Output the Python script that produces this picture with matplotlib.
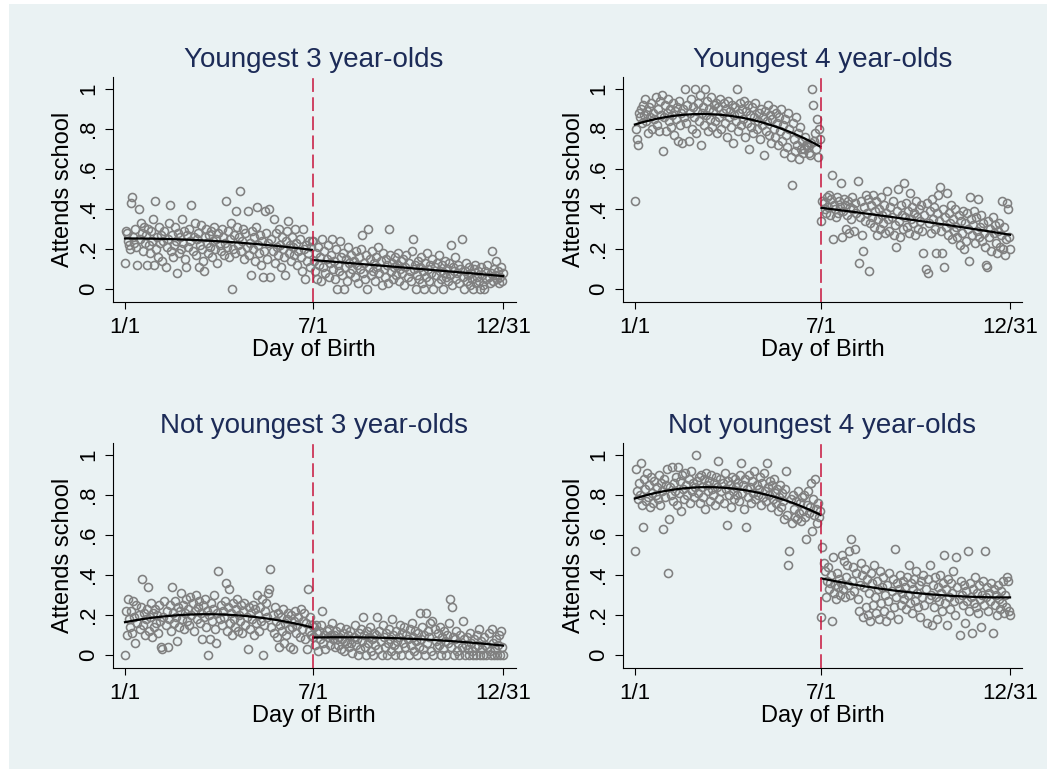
import numpy as np
import matplotlib
matplotlib.use("Agg")
import matplotlib.pyplot as plt
from matplotlib.patches import Rectangle

plt.rcParams['font.family'] = ['Liberation Sans', 'DejaVu Sans']

days = np.arange(1, 366)
cutoff = 182  # 7/1
tick_days = [1, 182, 365]
tick_names = ["1/1", "7/1", "12/31"]
y_ticks = [0, 0.2, 0.4, 0.6, 0.8, 1.0]
y_names = ["0", ".2", ".4", ".6", ".8", "1"]

titles = ["Youngest 3 year-olds", "Youngest 4 year-olds",
          "Not youngest 3 year-olds", "Not youngest 4 year-olds"]

# share attending school (percent), one value per day of birth
# days 1-181 (before 7/1) and 182-365 (from 7/1)
young3_before = [13, 29, 28, 24, 22, 20, 43, 46, 26, 23, 30, 21, 12, 40, 25, 33, 28, 19, 31, 23,
                 27, 12, 30, 22, 18, 29, 24, 35, 12, 44, 20, 26, 16, 31, 23, 27, 14, 24, 29, 11,
                 21, 25, 33, 42, 19, 27, 16, 22, 31, 24, 8, 28, 18, 26, 20, 35, 23, 29, 15, 11,
                 27, 21, 30, 24, 42, 19, 26, 33, 17, 25, 28, 11, 22, 32, 20, 14, 9, 26, 30, 23,
                 18, 27, 21, 29, 16, 24, 31, 20, 25, 13, 28, 22, 19, 30, 26, 17, 23, 44, 21, 29,
                 16, 25, 33, 0, 20, 27, 18, 39, 31, 22, 26, 49, 19, 24, 30, 15, 28, 21, 39, 17,
                 23, 7, 29, 20, 26, 14, 31, 41, 22, 18, 27, 12, 24, 6, 19, 39, 28, 15, 23, 40,
                 6, 25, 19, 35, 13, 28, 21, 17, 30, 22, 11, 26, 20, 16, 7, 24, 29, 34, 18, 22,
                 14, 26, 21, 17, 30, 23, 12, 19, 25, 16, 9, 30, 20, 5, 22, 14, 18, 24, 11, 21, 24]
young3_after = [24, 14, 9, 18, 5, 21, 12, 16, 4, 25, 11, 19, 8, 15, 22, 6, 13, 17, 25, 10,
                14, 5, 20, 0, 12, 9, 24, 16, 7, 18, 0, 11, 15, 4, 21, 13, 8, 17, 10, 14,
                6, 19, 12, 3, 16, 10, 20, 27, 8, 13, 5, 17, 0, 30, 11, 15, 7, 19, 9, 13,
                4, 16, 11, 21, 8, 14, 2, 18, 10, 6, 15, 12, 3, 30, 17, 9, 13, 5, 11, 16,
                7, 12, 18, 4, 10, 14, 8, 15, 2, 11, 17, 6, 13, 9, 4, 19, 25, 10, 12, 0,
                7, 14, 5, 11, 16, 3, 9, 0, 13, 6, 18, 10, 4, 12, 8, 15, 0, 11, 7, 13,
                3, 17, 9, 5, 12, 0, 8, 14, 6, 10, 4, 13, 7, 22, 2, 11, 9, 16, 5, 8,
                12, 3, 10, 25, 6, 0, 9, 13, 4, 7, 11, 2, 8, 5, 0, 10, 12, 3, 6, 9,
                4, 0, 11, 7, 2, 0, 9, 5, 12, 6, 3, 8, 19, 4, 10, 7, 14, 5, 9, 3,
                6, 11, 4, 8]

young4_before = [44, 80, 75, 72, 88, 86, 90, 83, 92, 87, 95, 84, 89, 78, 91, 86, 93, 80, 88, 85,
                 96, 82, 90, 79, 94, 87, 97, 69, 86, 92, 79, 88, 95, 84, 90, 81, 87, 93, 77, 89,
                 85, 91, 74, 94, 82, 88, 73, 90, 86, 100, 83, 92, 74, 88, 95, 80, 91, 86, 100, 78,
                 89, 93, 84, 97, 72, 88, 91, 82, 100, 87, 94, 79, 90, 85, 96, 81, 89, 92, 84, 93,
                 78, 91, 86, 95, 80, 88, 93, 83, 90, 76, 94, 86, 89, 81, 92, 73, 87, 91, 84, 100,
                 79, 88, 93, 82, 90, 85, 94, 76, 89, 83, 92, 70, 87, 81, 91, 78, 86, 93, 80, 84,
                 88, 75, 90, 82, 86, 67, 89, 79, 84, 92, 77, 87, 73, 85, 90, 80, 76, 88, 83, 72,
                 86, 79, 90, 74, 82, 68, 85, 77, 71, 88, 80, 66, 52, 83, 75, 69, 86, 72, 78, 65,
                 81, 70, 74, 68, 70, 76, 72, 72, 71, 68, 67, 73, 100, 92, 74, 78, 70, 85, 66, 80, 75]
young4_after = [34, 44, 43, 40, 38, 46, 41, 47, 37, 45, 57, 25, 42, 40, 36, 46, 38, 44, 41, 53,
                26, 39, 45, 42, 30, 37, 44, 28, 41, 35, 46, 40, 29, 43, 38, 54, 13, 36, 44, 27,
                19, 41, 34, 47, 38, 45, 9, 33, 42, 36, 47, 31, 39, 44, 27, 35, 40, 30, 46, 37,
                33, 42, 28, 38, 49, 35, 29, 41, 36, 44, 27, 32, 21, 39, 50, 34, 26, 42, 37, 30,
                53, 36, 43, 31, 39, 28, 48, 35, 41, 33, 38, 27, 44, 36, 30, 40, 34, 42, 29, 18,
                37, 10, 43, 8, 33, 39, 28, 45, 35, 41, 30, 18, 38, 47, 34, 51, 29, 18, 40, 11,
                36, 31, 48, 27, 38, 33, 42, 25, 35, 29, 40, 31, 26, 37, 22, 34, 28, 39, 20, 33,
                24, 38, 30, 14, 46, 35, 27, 32, 39, 23, 36, 29, 45, 26, 31, 37, 24, 33, 28, 21,
                12, 11, 34, 26, 30, 19, 36, 28, 32, 23, 18, 29, 33, 21, 27, 44, 20, 31, 17, 25,
                43, 40, 26, 20]

older3_before = [0, 22, 10, 28, 18, 14, 22, 11, 27, 19, 6, 25, 16, 20, 13, 24, 38, 15, 21, 10,
                 18, 23, 34, 12, 19, 26, 9, 21, 14, 23, 16, 20, 11, 25, 17, 4, 3, 19, 27, 15,
                 22, 4, 18, 25, 12, 34, 21, 16, 27, 19, 7, 24, 14, 22, 31, 18, 25, 13, 21, 28,
                 17, 23, 15, 29, 20, 26, 12, 22, 30, 18, 24, 27, 16, 21, 8, 25, 19, 28, 14, 22,
                 0, 20, 8, 26, 17, 23, 30, 13, 6, 21, 42, 18, 25, 15, 22, 19, 27, 36, 12, 24,
                 33, 16, 21, 10, 26, 18, 14, 23, 28, 12, 20, 17, 25, 11, 22, 26, 15, 19, 3, 24,
                 13, 21, 18, 25, 10, 23, 16, 30, 20, 12, 24, 17, 28, 0, 15, 22, 26, 19, 31, 33,
                 43, 14, 20, 11, 24, 17, 9, 21, 4, 15, 19, 12, 23, 6, 16, 10, 18, 21, 13, 4,
                 20, 14, 3, 17, 22, 11, 15, 19, 9, 23, 13, 17, 21, 8, 16, 3, 33, 12, 19, 10, 15]
older3_after = [9, 14, 5, 15, 11, 2, 12, 8, 15, 22, 6, 10, 3, 12, 9, 13, 5, 10, 16, 8,
                10, 4, 12, 8, 5, 9, 14, 3, 8, 11, 2, 7, 13, 6, 10, 4, 12, 6, 1, 9,
                15, 5, 8, 0, 11, 3, 13, 7, 19, 10, 4, 0, 12, 6, 9, 14, 2, 8, 0, 11,
                5, 10, 19, 3, 12, 7, 0, 15, 9, 4, 11, 0, 6, 13, 8, 2, 18, 10, 5, 0,
                12, 7, 3, 9, 15, 0, 11, 6, 14, 4, 10, 8, 0, 13, 5, 16, 9, 2, 12, 7,
                0, 11, 4, 21, 8, 14, 3, 10, 0, 21, 6, 12, 9, 16, 2, 17, 0, 13, 7, 4,
                11, 5, 14, 0, 9, 3, 12, 7, 0, 10, 6, 16, 28, 4, 24, 9, 0, 8, 12, 2,
                6, 0, 10, 4, 17, 8, 0, 5, 9, 3, 0, 11, 6, 2, 0, 8, 4, 0, 10, 5,
                13, 0, 7, 3, 0, 9, 5, 0, 4, 11, 2, 0, 13, 6, 0, 3, 8, 0, 5, 10,
                0, 12, 4, 0]

older4_before = [52, 93, 82, 78, 86, 80, 96, 75, 64, 88, 83, 77, 91, 79, 85, 74, 89, 81, 76, 87,
                 80, 84, 78, 90, 75, 86, 82, 63, 88, 79, 85, 93, 41, 68, 84, 80, 94, 77, 86, 82,
                 89, 75, 94, 81, 87, 72, 90, 83, 78, 91, 85, 80, 88, 76, 92, 82, 86, 79, 84, 100,
                 87, 81, 89, 76, 90, 84, 79, 88, 73, 91, 85, 82, 87, 77, 90, 83, 80, 86, 75, 89,
                 84, 97, 78, 88, 82, 86, 76, 91, 83, 65, 87, 80, 85, 74, 89, 82, 78, 88, 84, 80,
                 86, 77, 90, 96, 81, 85, 73, 88, 64, 83, 79, 90, 84, 76, 87, 81, 92, 78, 85, 80,
                 83, 89, 75, 86, 79, 91, 82, 77, 96, 84, 80, 87, 74, 85, 78, 88, 81, 76, 83, 72,
                 79, 85, 74, 81, 77, 68, 83, 92, 70, 45, 52, 78, 66, 80, 73, 69, 77, 68, 82, 71,
                 76, 67, 79, 72, 80, 69, 58, 75, 82, 71, 74, 86, 62, 78, 70, 88, 73, 66, 76, 69, 72]
older4_after = [19, 54, 46, 42, 29, 37, 44, 33, 36, 40, 17, 49, 31, 35, 28, 41, 34, 38, 30, 36,
                50, 33, 47, 29, 39, 45, 35, 52, 30, 58, 37, 44, 32, 53, 41, 28, 22, 35, 46, 40,
                19, 34, 43, 24, 38, 20, 31, 17, 41, 36, 25, 45, 29, 21, 37, 33, 18, 42, 26, 34,
                39, 22, 30, 17, 35, 27, 41, 20, 32, 38, 24, 53, 29, 36, 18, 33, 40, 25, 31, 37,
                28, 34, 23, 39, 30, 45, 26, 36, 21, 33, 38, 27, 42, 31, 24, 35, 19, 37, 29, 40,
                25, 33, 16, 38, 28, 45, 30, 15, 35, 24, 39, 29, 18, 34, 27, 40, 31, 22, 36, 50,
                26, 33, 15, 38, 29, 23, 36, 31, 42, 27, 20, 49, 34, 28, 10, 37, 30, 25, 35, 16,
                32, 27, 52, 22, 36, 29, 11, 33, 26, 39, 24, 31, 21, 35, 28, 14, 30, 37, 25, 52,
                29, 34, 22, 31, 27, 36, 11, 33, 25, 30, 20, 35, 28, 23, 32, 26, 37, 21, 30, 24,
                39, 37, 22, 20]

panels = [(young3_before, young3_after), (young4_before, young4_after),
          (older3_before, older3_after), (older4_before, older4_after)]

bg = '#eaf2f3'
navy = '#1c2b57'
gray = '#808080'
red = '#c8143c'

fig = plt.figure(figsize=(10.47, 7.69), dpi=100)
fig.patch.set_facecolor('white')
fig.add_artist(Rectangle((9 / 1047, 0), 1, 1 - 4 / 769, transform=fig.transFigure,
                         facecolor=bg, edgecolor='none', zorder=-10))

# axes boxes in figure fractions (left, bottom, width, height)
boxes = [(0.1075, 0.6073, 0.3849, 0.2926), (0.5946, 0.6073, 0.3819, 0.2926),
         (0.1075, 0.1313, 0.3849, 0.2926), (0.5946, 0.1313, 0.3819, 0.2926)]

for box, title, (before, after) in zip(boxes, titles, panels):
    ax = fig.add_axes(box)
    ax.set_facecolor('none')
    y = np.array(before + after) / 100.0
    ax.plot(days, y, 'o', ms=5.8, mfc='none', mec=gray, mew=1.15, zorder=2)

    # quadratic fit on each side of the cutoff
    for side in (days < cutoff, days >= cutoff):
        xs, ys = days[side], y[side]
        coef = np.polyfit(xs, ys, 2)
        ax.plot(xs, np.polyval(coef, xs), color='black', lw=1.6, zorder=3)

    ax.axvline(cutoff, color=red, lw=1.1, dashes=(9, 3.5), zorder=4)

    ax.set_xlim(-11, 377)
    ax.set_ylim(-0.065, 1.06)
    ax.set_xticks(tick_days)
    ax.set_xticklabels(tick_names)
    ax.set_yticks(y_ticks)
    ax.set_yticklabels(y_names, rotation=90, va='center')
    ax.tick_params(axis='both', labelsize=16, width=0.8, color='black')
    ax.tick_params(axis='y', length=5.5, pad=4)
    ax.tick_params(axis='x', length=5, pad=6)
    for s in ('top', 'right'):
        ax.spines[s].set_visible(False)
    for s in ('left', 'bottom'):
        ax.spines[s].set_linewidth(0.8)

    ax.set_title(title, fontsize=20, color=navy, pad=7)
    ax.set_xlabel('Day of Birth', fontsize=17)
    ax.set_ylabel('Attends school', fontsize=17)
    ax.xaxis.set_label_coords(0.5, -0.165)
    ax.yaxis.set_label_coords(-0.095, 0.5)

fig.savefig('out.png', dpi=100, facecolor=fig.get_facecolor())
